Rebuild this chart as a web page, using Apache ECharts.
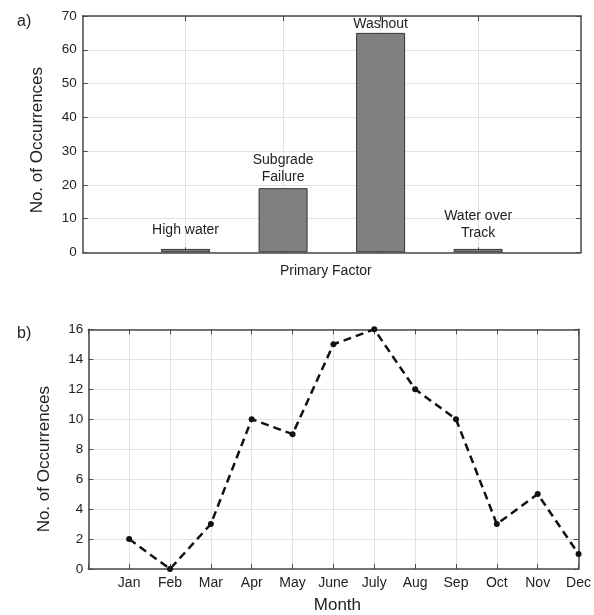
<!DOCTYPE html>
<html>
<head>
<meta charset="utf-8">
<script src="https://cdn.jsdelivr.net/npm/echarts@6/dist/echarts.min.js"></script>
<style>
  html, body { margin: 0; padding: 0; background: #fff; }
  #chart { width: 594px; height: 615px; }
</style>
</head>
<body>
<div id="chart"></div>
<script>
// Panel a) occurrences by primary factor
const factors = ['High water', 'Subgrade\nFailure', 'Washout', 'Water over\nTrack'];
const factorCounts = [1, 19, 65, 1];

// Panel b) occurrences by month
const months = ['Jan', 'Feb', 'Mar', 'Apr', 'May', 'June', 'July', 'Aug', 'Sep', 'Oct', 'Nov', 'Dec'];
const monthCounts = [2, 0, 3, 10, 9, 15, 16, 12, 10, 3, 5, 1];

// gap (px) between each bar top and its text label
const factorLabelGap = [10, 3, 0, 7];

const TXT = '#222';
const AX = '#4a4a4a';
const GRIDC = '#e2e2e2';
const FONT = '"Liberation Sans", Arial, sans-serif';

const factorPositions = factors.map((_, i) => i + 1);
const monthPositions = months.map((_, i) => i + 1);

function frameAxis(extra) {
  return Object.assign({
    type: 'value',
    axisLine: { show: true, onZero: false, lineStyle: { color: AX, width: 1.5 } },
    axisTick: { show: true, inside: true, length: 5, lineStyle: { color: AX, width: 1 } },
    axisLabel: { show: false },
    splitLine: { show: false }
  }, extra);
}

const chart = echarts.init(document.getElementById('chart'), null, { renderer: 'canvas' });

chart.setOption({
  animation: false,
  textStyle: { fontFamily: FONT, color: TXT },
  grid: [
    { left: 82.7, top: 16, width: 498.3, height: 236.3 },
    { left: 88.3, top: 329.3, width: 490.4, height: 242.4 }
  ],
  graphic: [
    { type: 'text', left: 17, top: 14, style: { text: 'a)', font: '16px ' + FONT, fill: TXT } },
    { type: 'text', left: 17, top: 326, style: { text: 'b)', font: '16px ' + FONT, fill: TXT } }
  ],
  xAxis: [
    // a) bottom
    frameAxis({
      gridIndex: 0, position: 'bottom', min: -0.055, max: 5.055,
      axisTick: { show: true, inside: true, length: 5, customValues: factorPositions, lineStyle: { color: AX } },
      splitLine: { show: true, customValues: factorPositions, lineStyle: { color: GRIDC, width: 1 } },
      name: 'Primary Factor', nameLocation: 'middle', nameGap: 12,
      nameTextStyle: { fontSize: 14, color: TXT, padding: [0, 12, 0, 0], verticalAlign: 'top' }
    }),
    // a) top frame
    frameAxis({
      gridIndex: 0, position: 'top', min: -0.055, max: 5.055,
      axisTick: { show: true, inside: true, length: 5, customValues: factorPositions, lineStyle: { color: AX } }
    }),
    // b) bottom
    frameAxis({
      gridIndex: 1, position: 'bottom', min: 0, max: 12, interval: 1,
      axisLabel: {
        show: true, fontSize: 14, color: TXT, margin: 7,
        formatter: v => months[v - 1] || ''
      },
      splitLine: { show: true, lineStyle: { color: GRIDC, width: 1 } },
      name: 'Month', nameLocation: 'middle', nameGap: 28,
      nameTextStyle: { fontSize: 17, color: TXT, padding: [0, 0, 0, 8], verticalAlign: 'top' }
    }),
    // b) top frame
    frameAxis({ gridIndex: 1, position: 'top', min: 0, max: 12, interval: 1 })
  ],
  yAxis: [
    frameAxis({
      gridIndex: 0, position: 'left', min: 0, max: 70, interval: 10,
      axisLabel: { show: true, fontSize: 13.5, color: TXT, margin: 6 },
      splitLine: { show: true, lineStyle: { color: GRIDC, width: 1 } },
      name: 'No. of Occurrences', nameLocation: 'middle', nameGap: 37,
      nameTextStyle: { fontSize: 17, color: TXT, padding: [0, 12, 0, 0] }
    }),
    frameAxis({ gridIndex: 0, position: 'right', min: 0, max: 70, interval: 10 }),
    frameAxis({
      gridIndex: 1, position: 'left', min: 0, max: 16, interval: 2,
      axisLabel: { show: true, fontSize: 13.5, color: TXT, margin: 5 },
      splitLine: { show: true, lineStyle: { color: GRIDC, width: 1 } },
      name: 'No. of Occurrences', nameLocation: 'middle', nameGap: 35,
      nameTextStyle: { fontSize: 17, color: TXT, padding: [0, 20, 0, 0] }
    }),
    frameAxis({ gridIndex: 1, position: 'right', min: 0, max: 16, interval: 2 })
  ],
  series: [
    {
      type: 'bar',
      xAxisIndex: 0, yAxisIndex: 0,
      barWidth: 49,
      itemStyle: { color: '#808080', borderColor: '#333', borderWidth: 1 },
      label: {
        show: true, position: 'top', fontSize: 14, lineHeight: 17, color: TXT,
        align: 'center',
        formatter: p => factors[p.dataIndex]
      },
      data: factorCounts.map((v, i) => ({
        value: [factorPositions[i], v],
        label: { distance: factorLabelGap[i] }
      })),
      z: 3
    },
    {
      type: 'line',
      xAxisIndex: 2, yAxisIndex: 2,
      clip: false,
      symbol: 'circle', symbolSize: 6,
      itemStyle: { color: '#111' },
      lineStyle: { color: '#111', width: 2.5, type: [8, 5] },
      data: monthCounts.map((v, i) => [monthPositions[i], v]),
      z: 5
    }
  ]
});
</script>
</body>
</html>
